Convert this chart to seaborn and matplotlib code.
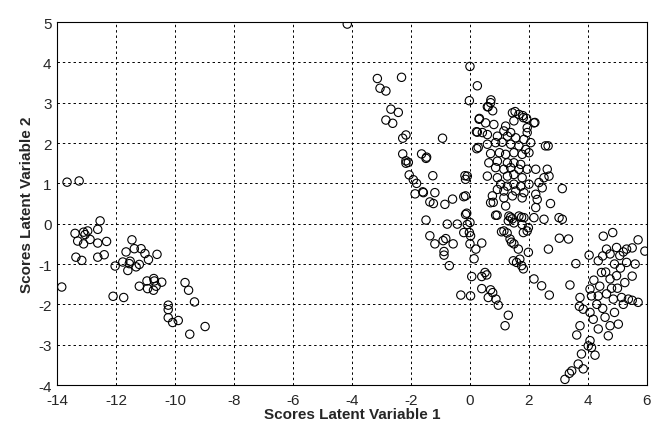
import matplotlib
matplotlib.use('Agg')
import matplotlib.pyplot as plt
import seaborn as sns
import pandas as pd

# left cluster
left_x = [-13.66, -13.25, -12.54, -12.62, -12.96, -13.39, -13.1, -13.05, -12.88, -13.3,
          -13.1, -12.62, -12.32, -13.36, -13.16, -12.62, -12.4, -13.84, -12.1, -11.74,
          -12.03, -11.77, -11.66, -11.46, -11.38, -11.15, -11.02, -10.9, -10.61, -11.55,
          -11.6, -11.32, -11.21, -11.52, -11.21, -10.95, -10.93, -10.72, -10.7, -10.73,
          -10.45, -10.64, -9.66, -9.54, -9.34, -10.23, -10.23, -10.23, -10.08, -9.89,
          -8.98, -9.5]
left_y = [1.03, 1.06, 0.07, -0.14, -0.18, -0.24, -0.21, -0.27, -0.39, -0.43,
          -0.5, -0.48, -0.44, -0.83, -0.91, -0.83, -0.77, -1.57, -1.8, -1.83,
          -1.05, -0.95, -0.70, -0.40, -0.62, -0.62, -0.74, -0.89, -0.76, -0.99,
          -1.16, -1.07, -1.01, -0.93, -1.55, -1.42, -1.61, -1.36, -1.42, -1.65,
          -1.45, -1.55, -1.46, -1.65, -1.94, -2.02, -2.13, -2.33, -2.45, -2.4,
          -2.55, -2.74]

# arc from (-4, 5) down to the middle
mid_x = [-4.16, -3.14, -2.32, -3.05, -2.85, -2.68, -2.43, -2.85, -2.62, -2.17,
         -2.28, -2.28, -2.09, -2.17, -1.64, -1.47, -2.17, -2.06, -1.92, -1.81,
         -1.86, -1.6, -1.49, -1.36, -1.36, -0.93, -1.49, -1.26, -0.17, -1.19,
         -1.58, -1.24, -0.85, -0.59, -0.21, -0.11, -0.77, -0.43, 0.0, -1.19,
         -0.91, -0.82, -0.57, -0.21, -0.02, 0.02, 0.0, 0.2, 0.4, -0.88,
         -0.88, -0.7, 0.14, 0.06, 0.4, 0.51, 0.57, 0.4, -0.31, 0.02,
         0.7, 0.77, 0.62, 0.88, 0.96, 1.3, 1.19, -0.15, -0.15, -0.15, -0.09]
mid_y = [4.95, 3.60, 3.63, 3.36, 3.29, 2.84, 2.76, 2.57, 2.49, 2.2,
         2.12, 1.73, 1.52, 1.56, 1.73, 1.65, 1.5, 1.21, 1.09, 1.0,
         0.74, 0.79, 0.09, -0.30, 0.54, 2.12, 1.62, 1.19, 1.19, 0.77,
         0.77, 0.5, 0.48, 0.61, 0.67, 0.26, -0.01, -0.01, 0.03, -0.5,
         -0.42, -0.37, -0.5, -0.22, -0.22, -0.30, -0.5, -0.63, -0.48, -0.69,
         -0.78, -1.04, -0.87, -1.31, -1.31, -1.21, -1.27, -1.61, -1.77, -1.79,
         -1.64, -1.71, -1.83, -1.87, -2.02, -2.27, -2.53, 1.1, 0.69, 0.23, -0.02]

# dense cluster around x = 0..3
dense_x = [0.0, 0.25, -0.02, 0.71, 0.62, 0.77, 1.53, 1.79, 1.92, 2.2,
           0.32, 2.65, 0.28, 0.22, 0.79, 0.92, 2.73,
           0.59, 0.7, 1.44, 1.66, 1.81, 1.49, 2.17, 1.94, 0.31, 0.53,
           0.81, 1.21, 1.15, 1.38, 0.25, 0.42, 0.59, 0.93, 1.27, 1.55,
           1.83, 1.94, 2.06, 2.56, 0.23, 0.59, 0.87, 1.09, 1.38, 1.66,
           1.89, 0.7, 1.0, 1.21, 1.49, 1.77, 2.0, 0.64, 0.93, 1.27,
           1.49, 1.72, 0.87, 1.15, 1.38, 1.66, 1.94, 2.23, 2.62, 0.59,
           0.93, 1.27, 1.49, 1.77, 2.51, 2.68, -0.09, 1.04, 1.27, 1.49,
           1.72, 2.0, 2.34, 2.45, 3.13, 0.93, 1.15, 1.55, 1.83, 2.23,
           0.76, 1.15, 1.44, 1.77, 2.28, 0.7, 1.21, 2.23, 0.87, 1.32,
           1.44, 1.66, 1.83, 2.17, 2.51, 3.02, 3.13, 1.49, 1.77, 1.15, 1.94,
           1.07, 1.26, 1.36, 1.49, 1.64, 1.69, 1.47, 1.75, 1.81, 1.3,
           1.38, 1.75, 1.81, 1.98, 1.41, 1.98, 1.58]
dense_y = [3.9, 3.42, 3.05, 3.07, 2.9, 2.8, 2.78, 2.68, 2.61, 2.51,
           2.61, 1.93, 1.89, 2.28, 0.53, 0.21, 0.5,
           2.9, 3.0, 2.75, 2.71, 2.63, 2.55, 2.5, 2.38, 2.59, 2.5,
           2.46, 2.42, 2.3, 2.26, 2.27, 2.26, 2.21, 2.17, 2.17, 2.13,
           2.09, 2.26, 2.01, 1.93, 1.86, 1.97, 2.01, 2.02, 1.97, 1.93,
           1.84, 1.74, 1.76, 1.72, 1.76, 1.72, 1.76, 1.51, 1.55, 1.51,
           1.51, 1.47, 1.39, 1.35, 1.39, 1.35, 1.35, 1.35, 1.35, 1.18,
           1.14, 1.18, 1.22, 1.14, 1.14, 1.18, 1.18, 0.98, 0.93, 0.98,
           0.93, 0.98, 1.02, 0.89, 0.87, 0.85, 0.81, 0.81, 0.77, 0.73,
           0.69, 0.64, 0.69, 0.64, 0.6, 0.52, 0.44, 0.4, 0.21, 0.19,
           0.12, 0.19, 0.15, 0.15, 0.11, 0.15, 0.11, 0.02, -0.02, -0.18, -0.18,
           -0.2, -0.23, -0.38, -0.5, -0.63, -0.88, -0.92, -1.04, -1.12, 0.07,
           0.16, 0.16, -0.22, -0.1, -0.46, -0.71, -0.96]

# lower right cluster
right_x = [3.03, 3.34, 2.66, 3.59, 2.17, 2.43, 2.69, 3.39, 4.52, 4.84,
           4.04, 4.35, 4.63, 4.97, 5.31, 4.75, 5.08, 5.31, 4.46, 4.75,
           4.97, 5.25, 4.07, 4.12, 4.35, 4.63, 4.86, 5.14, 5.37, 3.73,
           3.71, 3.84, 4.07, 4.18, 4.35, 4.58, 4.75, 5.03, 4.69, 3.73,
           3.62, 4.07, 4.01, 4.12, 4.24, 3.78, 3.67, 3.84, 3.45, 3.37,
           3.22, 5.7, 5.93, 5.6, 5.5, 5.7, 5.5, 5.5,
           4.2, 4.4, 4.6, 4.9, 5.1, 4.5, 4.8, 5.0, 5.2, 4.3,
           4.5, 4.9, 5.2]
right_y = [-0.36, -0.38, -0.63, -0.99, -1.37, -1.54, -1.77, -1.52, -0.31, -0.22,
           -0.78, -0.92, -0.63, -0.59, -0.63, -0.75, -0.79, -0.96, -1.21, -1.37,
           -1.29, -1.46, -1.62, -1.79, -1.79, -1.74, -1.87, -1.83, -1.87, -1.83,
           -2.05, -2.12, -2.2, -2.37, -2.61, -2.32, -2.53, -2.49, -2.78, -2.53,
           -2.76, -2.9, -3.03, -3.07, -3.26, -3.23, -3.48, -3.6, -3.65, -3.71,
           -3.86, -0.4, -0.68, -1.0, -1.9, -1.95, -0.6, -1.3,
           -1.4, -1.55, -1.2, -1.0, -1.1, -0.8, -1.6, -1.6, -0.7, -2.0,
           -2.1, -2.2, -2.0]

df = pd.DataFrame({'lv1': left_x + mid_x + dense_x + right_x,
                   'lv2': left_y + mid_y + dense_y + right_y})

sns.set_style('white')
plt.rcParams['font.family'] = ['Liberation Sans', 'DejaVu Sans']
plt.rcParams['axes.unicode_minus'] = False

fig = plt.figure(figsize=(6.54, 4.27), dpi=100)
ax = fig.add_axes([0.0872, 0.096, 0.902, 0.85])

sns.scatterplot(data=df, x='lv1', y='lv2', marker='o', s=36,
                facecolor='none', edgecolor='black', linewidth=0.8, ax=ax)

ax.set_xlim(-14, 6)
ax.set_ylim(-4, 5)
ax.set_xticks(range(-14, 7, 2))
ax.set_yticks(range(-4, 6))
ax.grid(True, color='black', linestyle=(0, (2.5, 3)), linewidth=0.7)
ax.tick_params(direction='in', length=4, labelsize=11, color='black')
ax.tick_params(axis='x', pad=6)
ax.tick_params(axis='y', pad=4)
for sp in ax.spines.values():
    sp.set_color('black')
    sp.set_linewidth(0.8)

ax.set_xlabel('Scores Latent Variable 1', fontsize=11, fontweight='bold', labelpad=0)
ax.set_ylabel('Scores Latent Variable 2', fontsize=11, fontweight='bold', labelpad=3)

plt.savefig('out.png', dpi=100)
